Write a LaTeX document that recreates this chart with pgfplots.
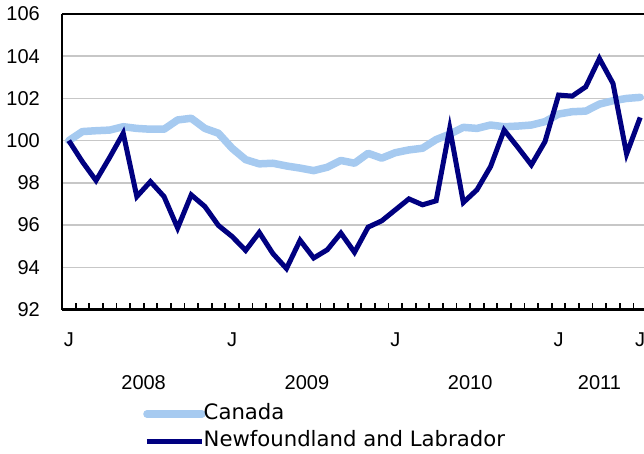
\documentclass[border=0pt]{standalone}
\usepackage{fontspec}
\setmainfont{Liberation Sans}
\newfontfamily\dejavu{DejaVu Sans}
\usepackage{pgfplots}
\pgfplotsset{compat=1.18}
\definecolor{canblue}{RGB}{166,202,240}
\definecolor{nlnavy}{RGB}{0,0,128}
\begin{document}
\begin{tikzpicture}
\path[use as bounding box] (-62pt,-144.5pt) rectangle (582pt,309.5pt);
\begin{axis}[
  scale only axis, width=585pt, height=295.5pt,
  xmin=-0.5, xmax=42.5, ymin=92, ymax=106,
  axis x line=box, axis y line=left,
  axis line style={-, line width=2.6pt, black},
  xtick={0.5,1.5,...,41.5}, xticklabels={},
  xtick pos=left,
  major tick length=6pt,
  xtick style={line width=1.8pt, black},
  extra x ticks={0,12,24,36,42}, extra x tick labels={J,J,J,J,J},
  extra x tick style={major tick length=0pt},
  xticklabel style={anchor=north, inner sep=0pt, yshift=-23pt},
  ytick={92,94,...,106}, ytick style={draw=none},
  yticklabel style={anchor=east, inner sep=0pt, xshift=-19pt},
  ymajorgrids, grid style={line width=1.5pt, color=black!22},
  tick label style={font=\fontsize{20}{24}\selectfont},
  /pgf/number format/assume math mode=true,
  clip=false,
  legend style={at={(axis description cs:0.1385,-0.323)}, anchor=north west,
    draw=none, fill=none, inner sep=0pt, row sep=9pt, column sep=-2pt,
    font=\dejavu\fontsize{21.2}{25}\selectfont,
    nodes={inner sep=0pt, text height=14pt, text depth=4pt}},
  legend cell align=left,
  legend image code/.code={\draw[#1] (0pt,0pt) -- (55pt,0pt);},
]
\addplot[canblue, line width=7.5pt, line join=round, line cap=round] coordinates {
(0,100.0)(1,100.43)(2,100.47)(3,100.5)(4,100.66)(5,100.58)(6,100.54)(7,100.54)
(8,100.98)(9,101.06)(10,100.58)(11,100.35)(12,99.64)(13,99.1)(14,98.9)(15,98.93)
(16,98.8)(17,98.7)(18,98.58)(19,98.74)(20,99.06)(21,98.93)(22,99.4)(23,99.17)
(24,99.43)(25,99.56)(26,99.64)(27,100.05)(28,100.31)(29,100.63)(30,100.58)
(31,100.74)(32,100.66)(33,100.69)(34,100.74)(35,100.9)(36,101.26)(37,101.37)
(38,101.4)(39,101.73)(40,101.89)(41,102.0)(42,102.05)};
\addlegendentry{Canada}
\addplot[nlnavy, line width=5pt, line join=miter] coordinates {
(0,100.0)(1,99.0)(2,98.11)(3,99.2)(4,100.35)(5,97.35)(6,98.06)(7,97.35)
(8,95.86)(9,97.43)(10,96.88)(11,95.98)(12,95.46)(13,94.8)(14,95.65)(15,94.65)
(16,93.94)(17,95.28)(18,94.44)(19,94.83)(20,95.62)(21,94.71)(22,95.9)(23,96.2)
(24,96.72)(25,97.24)(26,96.96)(27,97.15)(28,100.58)(29,97.07)(30,97.67)
(31,98.77)(32,100.5)(33,99.69)(34,98.85)(35,99.95)(36,102.16)(37,102.11)
(38,102.55)(39,103.89)(40,102.71)(41,99.37)(42,101.1)};
\addlegendentry{Newfoundland and Labrador}
\node[anchor=north, inner sep=0pt, font=\fontsize{20}{24}\selectfont, yshift=-65.5pt] at (axis cs:5.5,92) {2008};
\node[anchor=north, inner sep=0pt, font=\fontsize{20}{24}\selectfont, yshift=-65.5pt] at (axis cs:17.5,92) {2009};
\node[anchor=north, inner sep=0pt, font=\fontsize{20}{24}\selectfont, yshift=-65.5pt] at (axis cs:29.5,92) {2010};
\node[anchor=north, inner sep=0pt, font=\fontsize{20}{24}\selectfont, yshift=-65.5pt] at (axis cs:39,92) {2011};
\end{axis}
\end{tikzpicture}
\end{document}
